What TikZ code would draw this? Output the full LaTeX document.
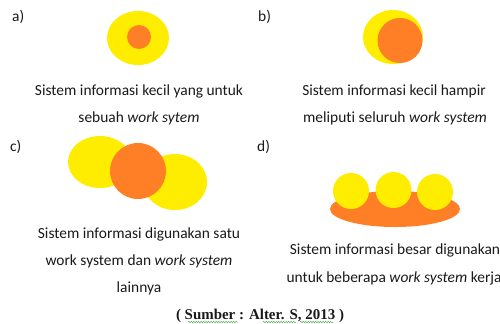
\documentclass[tikz,border=0pt]{standalone}
\usepackage{fontspec}
\setmainfont[Ligatures=NoCommon]{Carlito}
\newfontfamily\srcfont{Liberation Serif}
\usetikzlibrary{decorations.pathmorphing}
\definecolor{ylw}{RGB}{255,237,0}
\definecolor{org}{RGB}{255,127,39}
\definecolor{txt}{RGB}{25,25,25}
\definecolor{spell}{RGB}{90,170,90}
\begin{document}
\begin{tikzpicture}[x=1bp,y=-1bp,
  yfill/.style={fill=ylw,draw=none},
  ofill/.style={fill=org,draw=none},
  captxt/.style={anchor=base,inner sep=0pt,text=txt,font=\fontsize{15.5}{18}\selectfont},
  lbl/.style={anchor=base west,inner sep=0pt,text=txt,font=\fontsize{15.5}{18}\selectfont},
  squig/.style={draw=spell,line width=0.5pt,decorate,decoration={snake,amplitude=0.7pt,segment length=2.5pt}}]
\useasboundingbox (0,0) rectangle (500,323);
% a
\node[lbl] (la) at (12,21) {a)};
\fill[yfill] (138,38) ellipse [x radius=31,y radius=27];
\fill[ofill] (139,37) circle [radius=12];
\node[captxt] (a1) at (139,95) {Sistem informasi kecil yang untuk};
\node[captxt] (a2) at (139,122) {sebuah \textit{work sytem}};
% b
\node[lbl] (lb) at (258,21) {b)};
\fill[yfill] (393,37) ellipse [x radius=30,y radius=27];
\fill[ofill] (400,40.5) circle [radius=22.5];
\node[captxt] (b1) at (394,95) {Sistem informasi kecil hampir};
\node[captxt] (b2) at (395,122) {meliputi seluruh \textit{work system}};
% c
\node[lbl] (lc) at (10,151) {c)};
\fill[yfill] (100,162) ellipse [x radius=32,y radius=26];
\fill[yfill] (175,182) ellipse [x radius=32,y radius=28];
\fill[ofill] (138,171) circle [radius=28];
\node[captxt] (c1) at (139,238) {Sistem informasi digunakan satu};
\node[captxt] (c2) at (139,265) {work system\ dan \textit{work system}};
\node[captxt] (c3) at (139,292) {lainnya};
% d
\node[lbl] (ld) at (257,151) {d)};
\fill[ofill] (395,209) ellipse [x radius=65,y radius=18];
\fill[yfill] (351,191) circle [radius=18];
\fill[yfill] (393.5,190) circle [radius=18];
\fill[yfill] (435,192) circle [radius=18];
\node[captxt] (d1) at (395,254) {Sistem informasi besar digunakan};
\node[captxt] (d2) at (394,282) {untuk beberapa \textit{work system} kerja};
% source
\node[anchor=base,inner sep=0pt,text=txt,font=\srcfont\bfseries\fontsize{15}{18}\selectfont] (src) at (260,319) {( Sumber : Alter. S, 2013 )};
\draw[squig] (188,322) -- (238,322);
\draw[squig] (263,322) -- (296,322);
\draw[squig] (300,322) -- (333,322);
\end{tikzpicture}
\end{document}
